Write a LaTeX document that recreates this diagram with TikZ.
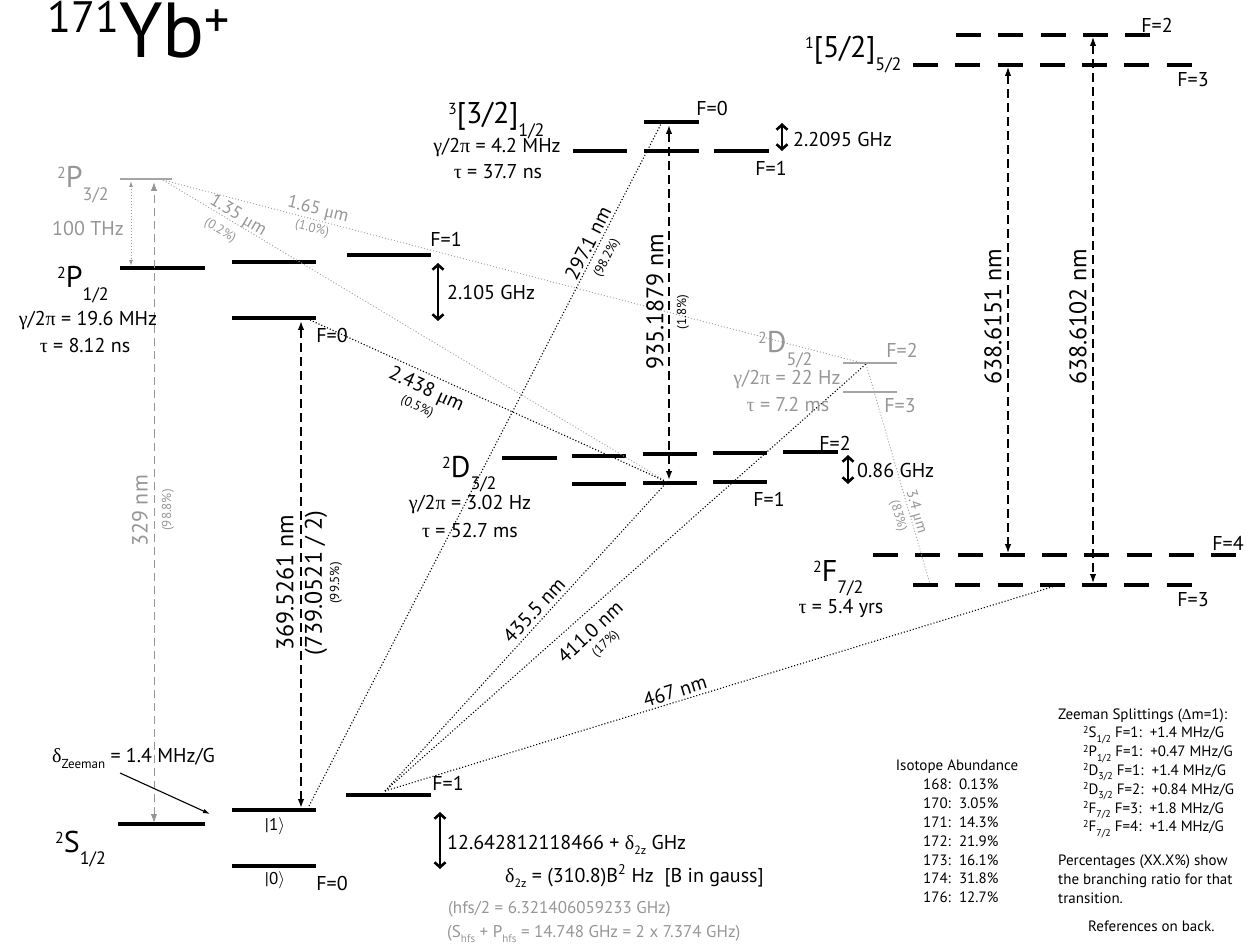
\documentclass[tikz,border=0pt]{standalone}
\usepackage{fontspec}
\setmainfont{PT Sans}
\newfontfamily\grk{Liberation Serif}
\usetikzlibrary{arrows.meta}

\definecolor{lgray}{RGB}{165,165,165}
\definecolor{tgray}{RGB}{150,150,150}

\newcommand{\gk}[1]{{\grk #1}}
\newcommand{\fsz}[1]{\fontsize{#1}{#1}\selectfont}
% term symbol, large
\newcommand{\term}[3]{\raisebox{9pt}{\fsz{16}#1}{\fsz{30}#2}\raisebox{-12.5pt}{\fsz{18}#3}}
% term symbol, small (tables)
\newcommand{\tterm}[3]{\raisebox{4.5pt}{\fsz{10}#1}#2\raisebox{-4.5pt}{\fsz{10}#3}}

\tikzset{
  lvl/.style={line width=3.3pt},
  glvl/.style={line width=1.8pt, lgray},
  dlvl/.style={line width=3.3pt, dash pattern=on 25pt off 17.25pt},
  term/.style={anchor=base west, inner sep=0pt},
  lbl/.style={inner sep=0pt, font=\fsz{20}},
  glbl/.style={lbl, text=tgray},
  pct/.style={inner sep=0pt, font=\fsz{13}},
  wl/.style={inner sep=0pt, font=\fsz{24}},
  tbl/.style={inner sep=0pt, font=\fsz{15}, anchor=base west},
  decay/.style={line width=1.1pt, dotted},
  gdecay/.style={decay, lgray, line width=0.9pt},
  laser/.style={line width=1.5pt, dash pattern=on 9pt off 5pt,
    {Latex[length=9pt,width=6.5pt]}-{Latex[length=9pt,width=6.5pt]}},
  split/.style={line width=2.6pt,
    {Straight Barb[length=5pt,width=11pt]}-{Straight Barb[length=5pt,width=11pt]}},
}

\begin{document}
\begin{tikzpicture}[x=1pt,y=-1pt]
  \useasboundingbox (0,0) rectangle (1256,949);

  \node[anchor=base west, inner sep=0pt] (title) at (47,58)
    {\raisebox{25pt}{\fsz{44}171}\fsz{78}Yb\raisebox{20pt}{\fsz{50}+}};

  % levels
  \draw[glvl] (120,179) -- (172,179);
  \draw[lvl] (120,268) -- (205,268);
  \draw[lvl] (232,262) -- (316,262);
  \draw[lvl] (347,255) -- (431,255);
  \draw[lvl] (232,318) -- (316,318);
  \draw[lvl] (118,824) -- (205,824);
  \draw[lvl] (232,810) -- (316,810);
  \draw[lvl] (346,795) -- (431,795);
  \draw[lvl] (232,866) -- (316,866);
  \draw[lvl] (573,151) -- (627,151);
  \draw[lvl] (644,122) -- (699,122);
  \draw[lvl] (644,151) -- (699,151);
  \draw[lvl] (714,151) -- (769,151);
  \draw[lvl] (502,458) -- (557,458);
  \foreach \x/\yt/\yb in {572/456/484, 643/454/483, 713/453/482} {
    \draw[lvl] (\x,\yt) -- ++(54,0);
    \draw[lvl] (\x,\yb) -- ++(54,0);
  }
  \draw[lvl] (783,452) -- (838,452);
  \draw[glvl] (843,363) -- (897,363);
  \draw[glvl] (843,392) -- (897,392);
  \draw[dlvl] (873,555) -- (1236,555);
  \draw[dlvl] (913,585) -- (1194,585);
  \draw[dlvl] (913,65) -- (1194,65);
  \draw[dlvl] (956,35) -- (1152,35);

  % transition end points
  \coordinate (P32) at (163,180);
  \coordinate (P0) at (310,320);
  \coordinate (S1d) at (309,806);
  \coordinate (S1b) at (385,791);
  \coordinate (B0) at (661,124);
  \coordinate (D1) at (667,482);
  \coordinate (D52) at (866,364);
  \coordinate (F3a) at (930,584);
  \coordinate (F3b) at (1055,586);

  % decays
  \draw[gdecay] (P32) -- (D1);
  \draw[gdecay] (P32) -- (D52);
  \draw[gdecay] (D52) -- (F3a);
  \draw[decay] (P0) -- (D1);
  \draw[decay] (S1d) -- (B0);
  \draw[decay] (S1b) -- (D1);
  \draw[decay] (S1b) -- (D52);
  \draw[decay] (S1b) -- (F3b);

  % lasers
  \coordinate (l329a) at (154,823); \coordinate (l329b) at (154,182);
  \coordinate (l369a) at (301,808); \coordinate (l369b) at (301,321);
  \coordinate (l935a) at (669,125); \coordinate (l935b) at (669,480);
  \coordinate (l6151a) at (1008,67); \coordinate (l6151b) at (1008,553);
  \coordinate (l6102a) at (1093,37); \coordinate (l6102b) at (1093,583);
  \coordinate (thza) at (131,181); \coordinate (thzb) at (131,266);
  \draw[laser, tgray, line width=1pt, dash pattern=on 8pt off 5pt] (l329a) -- (l329b);
  \draw[tgray, line width=1pt, dotted, {Latex[length=6pt,width=4pt]}-{Latex[length=6pt,width=4pt]}] (thza) -- (thzb);
  \draw[laser] (l369a) -- (l369b);
  \draw[laser] (l935a) -- (l935b);
  \draw[laser, line width=1.2pt] (l6151a) -- (l6151b);
  \draw[laser, line width=1.2pt] (l6102a) -- (l6102b);

  % hyperfine splittings
  \coordinate (h1a) at (438,263); \coordinate (h1b) at (438,321);
  \coordinate (h2a) at (782,123); \coordinate (h2b) at (782,151);
  \coordinate (h3a) at (848,455); \coordinate (h3b) at (848,484);
  \coordinate (h4a) at (440,812); \coordinate (h4b) at (440,869);
  \draw[split] (h1a) -- (h1b);
  \draw[split] (h2a) -- (h2b);
  \draw[split] (h3a) -- (h3b);
  \draw[split] (h4a) -- (h4b);

  % Zeeman pointer
  \coordinate (zA) at (120,773); \coordinate (zB) at (210,814);
  \draw[line width=1.1pt, -{Latex[length=7pt,width=4.5pt]}] (zA) -- (zB);

  % term labels
  \node[term, text=tgray] (tP32) at (57,188) {\term{2}{P}{3/2}};
  \node[term] (tP12) at (57,288) {\term{2}{P}{1/2}};
  \node[term] (tS12) at (55,852) {\term{2}{S}{1/2}};
  \node[term] (tD32) at (442,477) {\term{2}{D}{3/2}};
  \node[term] (tF72) at (813,581) {\term{2}{F}{7/2}};
  \node[term, text=tgray] (tD52) at (758,353) {\term{2}{D}{5/2}};
  \node[term] (tB32) at (448,124) {\term{3}{[3/2]}{1/2}};
  \node[term] (tB52) at (805,58) {\term{1}{[5/2]}{5/2}};

  % level data
  \node[glbl] (thz) at (88,229) {100 THz};
  \node[lbl] (gamP) at (88,321) {\gk{γ}/2\gk{π} = 19.6 MHz};
  \node[lbl] (tauP) at (85,346) {\gk{τ} = 8.12 ns};
  \node[lbl] (gamB) at (497,148) {\gk{γ}/2\gk{π} = 4.2 MHz};
  \node[lbl] (tauB) at (498,172) {\gk{τ} = 37.7 ns};
  \node[lbl] (gamD) at (470,505) {\gk{γ}/2\gk{π} = 3.02 Hz};
  \node[lbl] (tauD) at (470,530) {\gk{τ} = 52.7 ms};
  \node[glbl] (gamD52) at (787,380) {\gk{γ}/2\gk{π} = 22 Hz};
  \node[glbl] (tauD52) at (788,405) {\gk{τ} = 7.2 ms};
  \node[lbl] (tauF) at (841,608) {\gk{τ} = 5.4 yrs};

  % F labels
  \node[lbl] (fP1) at (446,239) {F=1};
  \node[lbl] (fP0) at (332,336) {F=0};
  \node[lbl] (fB0) at (712,109) {F=0};
  \node[lbl] (fB1) at (771,168) {F=1};
  \node[lbl] (fD2) at (835,443) {F=2};
  \node[lbl] (fD1) at (769,499) {F=1};
  \node[glbl] (fD52a) at (902,350) {F=2};
  \node[glbl] (fD52b) at (900,406) {F=3};
  \node[lbl] (fF4) at (1228,543) {F=4};
  \node[lbl] (fF3) at (1193,600) {F=3};
  \node[lbl] (fB52a) at (1157,25) {F=2};
  \node[lbl] (fB52b) at (1193,80) {F=3};
  \node[lbl] (fS1) at (448,783) {F=1};
  \node[lbl] (fS0) at (332,883) {F=0};
  \node[lbl, font=\fsz{17}] (ket1) at (275,826) {|1$\rangle$};
  \node[lbl, font=\fsz{17}] (ket0) at (275,880) {|0$\rangle$};

  % splittings
  \node[lbl, anchor=base west] (s2105) at (447,300) {2.105 GHz};
  \node[lbl, anchor=base west] (s22095) at (793,147) {2.2095 GHz};
  \node[lbl, anchor=base west] (s086) at (857,478) {0.86 GHz};
  \node[lbl, anchor=base west] (s126) at (447,849)
    {12.642812118466 + \gk{δ}\raisebox{-5pt}{\fsz{12}2z} GHz};
  \node[lbl, anchor=base west] (d2z) at (505,882)
    {\gk{δ}\raisebox{-5pt}{\fsz{12}2z} = (310.8)B\textsuperscript{2} Hz~~[B in gauss]};
  \node[glbl, anchor=base west, font=\fsz{17}] (hfs) at (448,913)
    {(hfs/2 = 6.321406059233 GHz)};
  \node[glbl, anchor=base west, font=\fsz{17}] (shfs) at (447,937)
    {(S\raisebox{-5pt}{\fsz{11}hfs} + P\raisebox{-5pt}{\fsz{11}hfs} = 14.748 GHz = 2 x 7.374 GHz)};
  \node[lbl, anchor=base west] (zee) at (52,762)
    {\gk{δ}\raisebox{-6pt}{\fsz{13}Zeeman} = 1.4 MHz/G};

  % wavelengths
  \node[glbl, font=\fsz{22}, rotate=90] (w329) at (140,511) {329 nm};
  \node[pct, text=tgray, rotate=90] (p329) at (168,510) {(98.8\%)};
  \node[wl, rotate=90] (w369) at (285,583) {369.5261 nm};
  \node[wl, rotate=90] (w739) at (316,583) {(739.0521 / 2)};
  \node[pct, rotate=90] (p369) at (336,583) {(99.5\%)};
  \node[wl, rotate=90] (w935) at (655,302) {935.1879 nm};
  \node[pct, rotate=90] (p935) at (683,312) {(1.8\%)};
  \node[wl, rotate=90] (w6151) at (993,317) {638.6151 nm};
  \node[wl, rotate=90] (w6102) at (1078,317) {638.6102 nm};
  \node[glbl, font=\fsz{18}, rotate=-31] (w135) at (238,216) {1.35 \gk{μ}m};
  \node[pct, text=tgray, rotate=-31] (p135) at (220,231) {(0.2\%)};
  \node[glbl, font=\fsz{18}, rotate=-14] (w165) at (318,210) {1.65 \gk{μ}m};
  \node[pct, text=tgray, rotate=-14] (p165) at (312,229) {(1.0\%)};
  \node[lbl, rotate=-25] (w2438) at (426,390) {2.438 \gk{μ}m};
  \node[pct, rotate=-25] (p2438) at (417,407) {(0.5\%)};
  \node[lbl, rotate=63] (w297) at (588,243) {297.1 nm};
  \node[pct, rotate=63] (p297) at (607,258) {(98.2\%)};
  \node[lbl, rotate=47] (w435) at (534,610) {435.5 nm};
  \node[lbl, rotate=43] (w411) at (590,632) {411.0 nm};
  \node[pct, rotate=43] (p411) at (606,644) {(17\%)};
  \node[lbl, rotate=17] (w467) at (675,691) {467 nm};
  \node[glbl, font=\fsz{15}, rotate=-74] (w34) at (916,512) {3.4 \gk{μ}m};
  \node[pct, text=tgray, rotate=-74] (p34) at (898,516) {(83\%)};

  % isotope abundance
  \node[inner sep=0pt, font=\fsz{15}] (iso) at (957,767) {Isotope Abundance};
  \foreach \m/\p [count=\i] in {168/0.13, 170/3.05, 171/14.3, 172/21.9, 173/16.1, 174/31.8, 176/12.7}
    \node[tbl] (iso\i) at (923,771+18.8*\i) {\m:~~\p\%};

  % Zeeman splittings
  \node[tbl] (zs) at (1058,719) {Zeeman Splittings (\gk{Δ}m=1):};
  \foreach \t [count=\i] in {{\tterm{2}{S}{1/2} F=1:~~+1.4 MHz/G},
      {\tterm{2}{P}{1/2} F=1:~~+0.47 MHz/G},
      {\tterm{2}{D}{3/2} F=1:~~+1.4 MHz/G},
      {\tterm{2}{D}{3/2} F=2:~~+0.84 MHz/G},
      {\tterm{2}{F}{7/2} F=3:~~+1.8 MHz/G},
      {\tterm{2}{F}{7/2} F=4:~~+1.4 MHz/G}}
    \node[tbl] (zs\i) at (1083,719+18.8*\i) {\t};

  % notes
  \node[tbl] (note1) at (1058,865) {Percentages (XX.X\%) show};
  \node[tbl] (note2) at (1058,884) {the branching ratio for that};
  \node[tbl] (note3) at (1058,903) {transition.};
  \node[tbl] (refs) at (1088,931) {References on back.};
\end{tikzpicture}
\end{document}
